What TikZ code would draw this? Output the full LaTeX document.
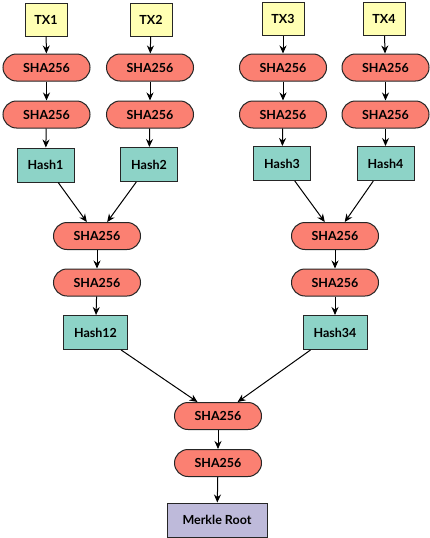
\documentclass[tikz,border=0pt]{standalone}
\usepackage{fontspec}
\setmainfont{Lato}
\usetikzlibrary{arrows.meta}
\definecolor{txc}{HTML}{FFFFB3}
\definecolor{shac}{HTML}{FB8072}
\definecolor{hashc}{HTML}{8DD3C7}
\definecolor{rootc}{HTML}{BEBADA}
\begin{document}
\begin{tikzpicture}[x=1pt,y=-1pt,
  base/.style={draw=black!85, line width=1pt, inner sep=0pt, font=\bfseries\fontsize{12.5}{14}\selectfont},
  txbox/.style={base, fill=txc, minimum width=42pt, minimum height=33pt},
  shabox/.style={base, fill=shac, minimum width=87pt, minimum height=27pt, rounded corners=13.5pt},
  hashbox/.style={base, fill=hashc, minimum width=57pt, minimum height=34pt},
  hash2box/.style={base, fill=hashc, minimum width=64pt, minimum height=34pt},
  rootbox/.style={base, fill=rootc, minimum width=100pt, minimum height=34pt},
  arr/.style={-{Stealth[length=8pt,width=7pt]}, line width=1pt, black}]
\useasboundingbox (0,0) rectangle (429,538);
% column 1
\node[txbox] (tx1) at (46,19.5) {TX1};
\node[shabox] (s1a) at (46.5,67.5) {SHA256};
\node[shabox] (s1b) at (46.5,114.5) {SHA256};
\node[hashbox] (h1) at (45.5,165) {Hash1};
% column 2
\node[txbox] (tx2) at (151,19.5) {TX2};
\node[shabox] (s2a) at (150,67.5) {SHA256};
\node[shabox] (s2b) at (150,114.5) {SHA256};
\node[hashbox] (h2) at (149,164.5) {Hash2};
% column 3
\node[txbox] (tx3) at (283,19) {TX3};
\node[shabox] (s3a) at (283,67.5) {SHA256};
\node[shabox] (s3b) at (283,114.5) {SHA256};
\node[hashbox] (h3) at (282,163.5) {Hash3};
% column 4
\node[txbox] (tx4) at (384,19) {TX4};
\node[shabox] (s4a) at (385.5,67.5) {SHA256};
\node[shabox] (s4b) at (385.5,114.5) {SHA256};
\node[hashbox] (h4) at (385.5,163.5) {Hash4};
% level 2
\node[shabox] (s12a) at (97,236) {SHA256};
\node[shabox] (s12b) at (97,282.5) {SHA256};
\node[hash2box] (h12) at (95.5,332.5) {Hash12};
\node[shabox] (s34a) at (335,236) {SHA256};
\node[shabox] (s34b) at (335,282.5) {SHA256};
\node[hash2box] (h34) at (335,332.5) {Hash34};
% root
\node[shabox] (sra) at (218,416) {SHA256};
\node[shabox] (srb) at (218,463) {SHA256};
\node[rootbox] (root) at (217,520) {Merkle Root};
% edges
\foreach \t/\a/\b/\h in {tx1/s1a/s1b/h1, tx2/s2a/s2b/h2, tx3/s3a/s3b/h3, tx4/s4a/s4b/h4}{
  \draw[arr] (\t) -- (\a);
  \draw[arr] (\a) -- (\b);
  \draw[arr] (\b) -- (\h);
}
\draw[arr] (h1) -- (s12a);
\draw[arr] (h2) -- (s12a);
\draw[arr] (h3) -- (s34a);
\draw[arr] (h4) -- (s34a);
\draw[arr] (s12a) -- (s12b);
\draw[arr] (s12b) -- (h12);
\draw[arr] (s34a) -- (s34b);
\draw[arr] (s34b) -- (h34);
\draw[arr] (h12) -- (sra);
\draw[arr] (h34) -- (sra);
\draw[arr] (sra) -- (srb);
\draw[arr] (srb) -- (root);
\end{tikzpicture}
\end{document}
